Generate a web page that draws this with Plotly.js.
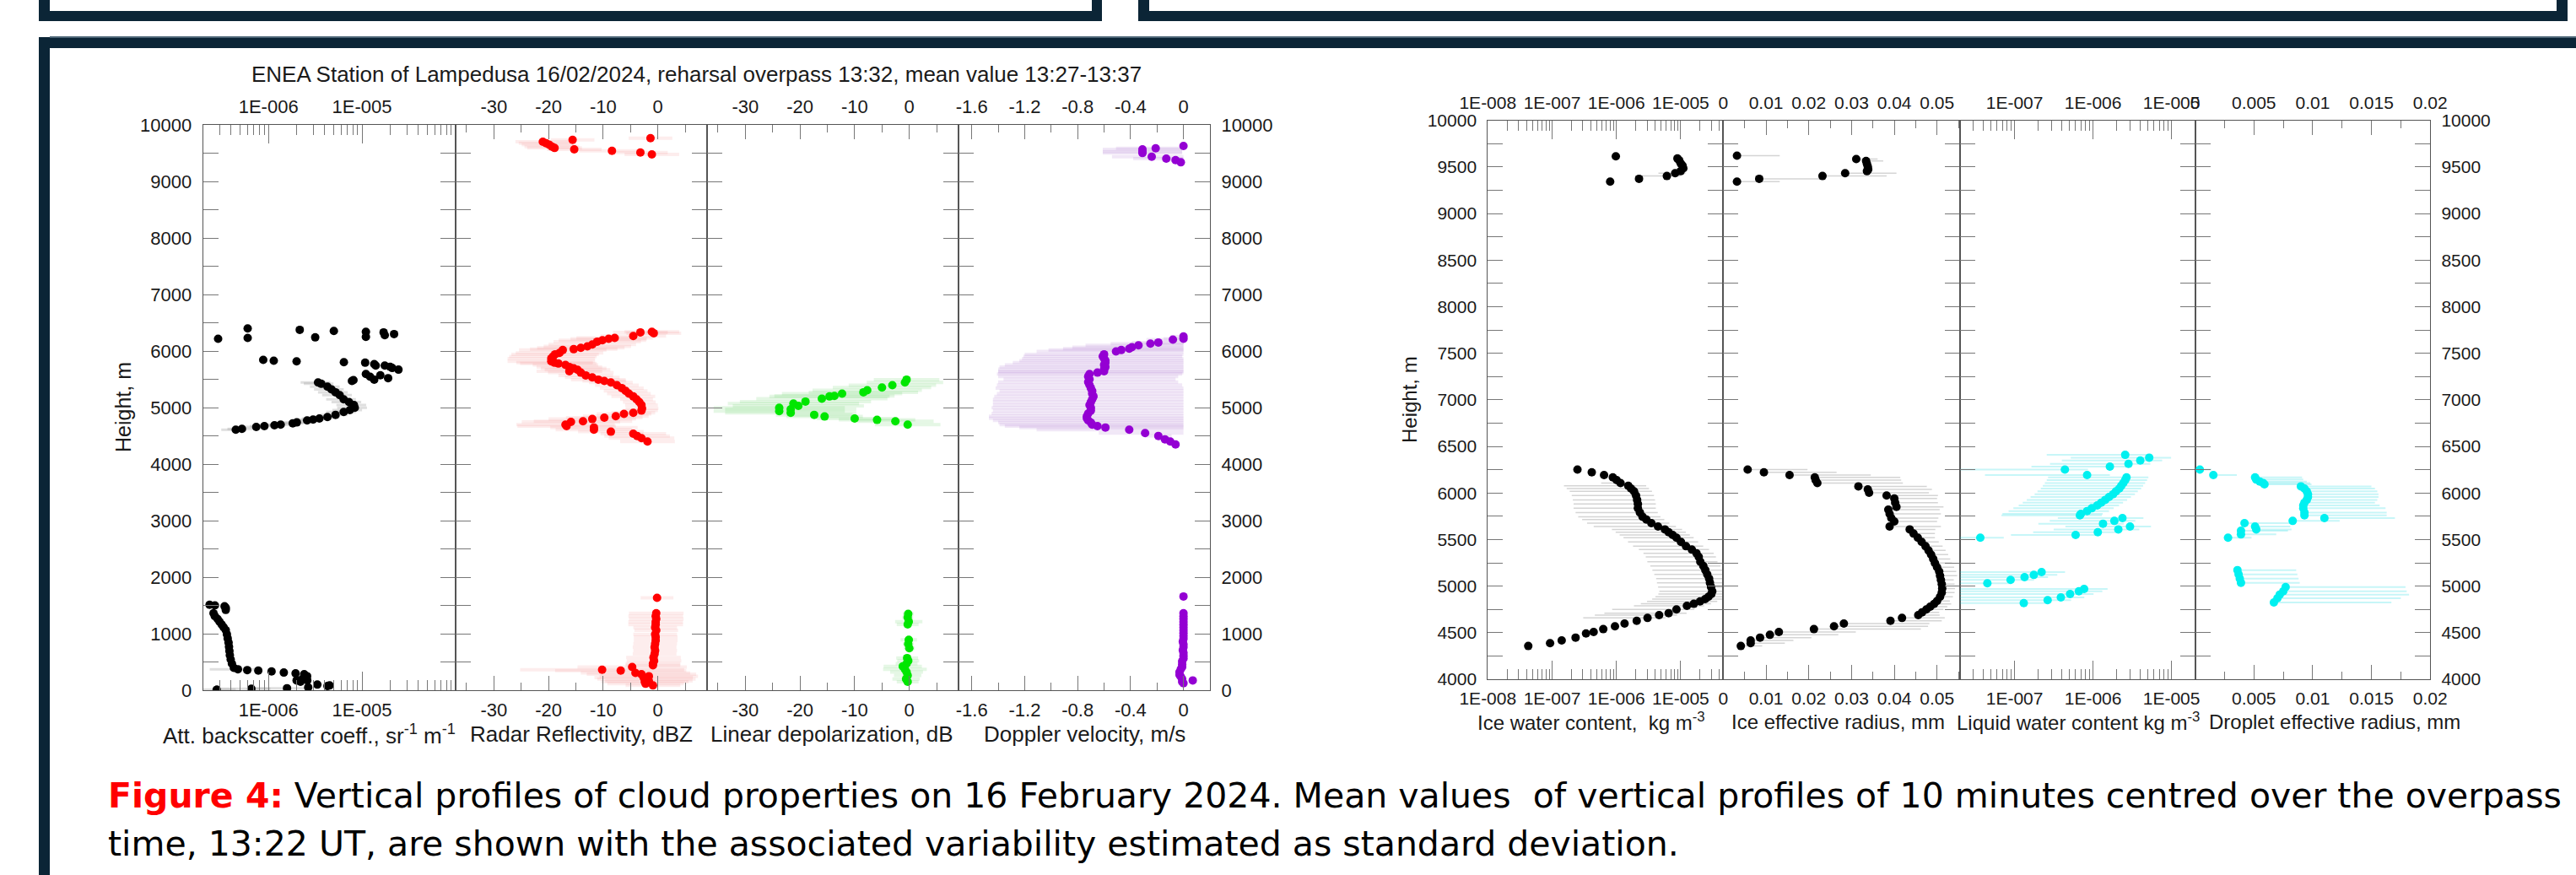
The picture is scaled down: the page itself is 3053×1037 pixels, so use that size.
<!DOCTYPE html>
<html><head><meta charset="utf-8">
<script src="https://cdn.plot.ly/plotly-3.0.1.min.js"></script>
<style>html,body{margin:0;padding:0;background:#fff;overflow:hidden}#chart{width:3053px;height:1037px}</style>
</head><body><div id="chart"></div>
<script>
// ---------------- DATA ----------------
// Left figure, panel 1: attenuated backscatter coefficient (sr-1 m-1)
const bsHeight = [6216,6400,6231,5843,5828,5818,6375,6241,6355,5803,6340,6250,6330,6280,6300,5793,5768,5743,5743,5720,5700,5670,5594,5544,5494,5570,5520,5484,5470,
  5444,5420,5370,5320,5270,5220,5145,5096,5046,4996,4956,4921,4871,4832,4807,4787,4772,4737,4722,4697,4687,4672,4657,4622,4607,
  1510,1500,1460,1485,1420,1361,1312,1262,1213,1163,1114,1064,990,916,842,767,693,619,545,470,396,371,356,346,332,312,297,282,248,173,149,198,223,173,50,99,74,84,10,25,35];
const bsValue = [2.9e-7,6.0e-7,6.0e-7,8.8e-7,1.14e-6,2.0e-6,2.16e-6,3.16e-6,5.0e-6,6.4e-6,1.1e-5,1.1e-5,1.7e-5,1.75e-5,2.2e-5,1.08e-5,1.35e-5,1.4e-5,1.75e-5,2.0e-5,2.1e-5,2.45e-5,1.1e-5,1.22e-5,1.35e-5,1.57e-5,1.9e-5,8.1e-6,7.8e-6,
  3.39e-6,3.67e-6,4.27e-6,4.72e-6,5.21e-6,5.77e-6,6.37e-6,7.26e-6,8.19e-6,8.36e-6,7.41e-6,6.37e-6,5.21e-6,4.27e-6,3.5e-6,3.0e-6,2.59e-6,2.01e-6,1.82e-6,1.35e-6,1.16e-6,9.05e-7,7.41e-7,5.21e-7,4.48e-7,
  2.35e-7,2.68e-7,3.5e-7,3.4e-7,3.5e-7,2.59e-7,2.67e-7,2.86e-7,3.0e-7,3.16e-7,3.32e-7,3.5e-7,3.6e-7,3.67e-7,3.75e-7,3.79e-7,3.83e-7,3.87e-7,3.95e-7,4.07e-7,4.27e-7,4.72e-7,5.94e-7,7.79e-7,1.08e-6,1.46e-6,1.95e-6,2.41e-6,2.59e-6,2.0e-6,2.2e-6,2.3e-6,2.5e-6,2.6e-6,2.66e-6,3.33e-6,4.27e-6,4.5e-6,2.8e-7,6.57e-7,1.58e-6];
// relative standard deviation (sd / value)
const bsRelSd = [0,0,0,0,0,0,0,0,0,0,0,0,0,0,0,0,0,0,0,0,0,0,0,0,0,0,0,0,0,
  0.35,0.35,0.35,0.35,0.35,0.35,0.35,0.35,0.35,0.35,0.35,0.35,0.35,0.35,0.35,0.3,0.3,0.3,0.3,0.3,0.3,0.3,0.3,0.3,0.3,
  0,0,0,0,0,0,0,0,0,0,0,0,0,0,0,0,0,0,0,0,0,0.5,0,0,0,0,0,0,0,0,0,0,0,0,0,0,0,0,0.6,0.6,0.6];

// Left figure, panel 2: radar reflectivity (dBZ)
const rzHeight = [9766,9736,9701,9676,9651,9617,9592,9567,9542,9512,9477,
  6340,6330,6315,6266,6231,6216,6191,6166,6116,6082,6057,6032,6017,5967,5942,5902,5867,5818,5793,5778,5753,5718,5693,5668,5643,5618,5569,5534,5494,5469,5444,5395,5345,5295,5245,5196,5146,5096,5046,4986,4946,4906,4887,4847,4822,4797,4757,4747,4697,4672,4647,4607,4573,4538,4498,4458,4398,
  1634,1361,1310,1260,1210,1160,1110,1060,990,940,880,820,760,700,640,580,520,470,440,411,361,347,307,282,248,223,198,163,149,114,84];
const rzValue = [-1.35,-15.6,-21.05,-20.45,-19.9,-19.4,-18.9,-15.3,-8.4,-3.2,-1.1,
  -1.1,-3.2,-0.75,-4.5,-7.9,-9.0,-10.15,-11.1,-12.0,-12.9,-14.1,-15.4,-17.4,-18.0,-18.8,-19.2,-19.5,-19.5,-18.9,-18.2,-16.9,-16.2,-15.4,-14.7,-16.2,-14.1,-13.2,-12.0,-10.9,-9.8,-8.6,-7.5,-6.6,-5.9,-5.3,-4.5,-3.9,-3.4,-3.0,-2.9,-3.0,-4.5,-6.2,-7.7,-9.8,-12.0,-13.7,-15.9,-16.9,-16.7,-11.7,-11.7,-8.6,-4.5,-3.8,-3.0,-1.9,
  -0.15,-0.3,-0.4,-0.3,-0.4,-0.4,-0.5,-0.3,-0.5,-0.4,-0.4,-0.5,-0.6,-0.5,-0.6,-0.8,-0.7,-0.9,-0.9,-4.7,-10.2,-6.8,-4.1,-3.0,-1.65,-2.6,-2.1,-1.65,-2.4,-2.25,-0.9];
const rzSd = [4,4,5,5,5,5,5,5,6,5,5,
  5,5,5,6,7,7,8,8,8,8,8,8,8,8,8,8,8,8,7,7,6,6,6,6,6,6,5,5,5,4,4,4,4,4,4,4,3,3,3,3,3,4,5,6,7,8,9,9,9,9,8,7,6,6,6,6,5,
  3,5,5,5,5,5,4,4,4,4,4,4,4,4,4,5,5,5,5,10,15,12,10,10,9,9,9,8,8,7,5];

// Left figure, panel 3: linear depolarization (dB)
const ldHeight = [4996,4936,4971,4906,5071,5031,5106,4871,5156,4842,5196,5206,5245,4807,5270,5305,4782,5355,5395,4757,5444,5494,4697,
  1351,1287,1213,1163,891,817,742,569,520,470,421,371,322,262,198,149];
const ldValue = [-23.8,-23.8,-21.7,-21.7,-21.2,-20.3,-19.0,-17.4,-16.0,-15.5,-14.6,-13.7,-12.3,-10.0,-8.4,-7.7,-5.9,-5.0,-3.1,-2.55,-0.8,-0.5,-0.3,
  -0.2,-0.3,-0.1,-0.3,-0.1,-0.2,0,-0.4,-0.2,-0.5,-1.2,-0.8,-0.5,-0.3,-0.6,-0.3];
const ldSd = [12,12,12,12,12,12,12,7,12,7,11,11,11,7,10,10,7,9,8,7,7,6,6,
  1,1,2.5,2,1.5,1,1,2,2,2,3.5,4,3,2.5,2.5,2];

// Left figure, panel 4: Doppler velocity (m/s)
const dvHeight = [9627,9587,9567,9527,9502,9437,9402,9378,9338,
  6256,6216,6201,6151,6131,6101,6067,6042,6017,5992,5942,5905,5867,5830,5793,5755,5718,5680,5643,5618,5594,5550,5500,5450,5400,5345,5295,5245,5196,5146,5096,5046,4996,4946,4896,4847,4810,4772,4735,4697,4672,4647,4607,4548,4498,4438,4398,4348,
  1658,1361,1310,1260,1210,1160,1110,1060,1010,960,910,860,810,760,710,660,610,560,510,460,410,372,322,272,240,198,173,149,124];
const dvValue = [0,-0.21,-0.31,-0.31,-0.31,-0.24,-0.13,-0.06,-0.02,
  0,0,-0.08,-0.19,-0.25,-0.34,-0.39,-0.41,-0.47,-0.51,-0.6,-0.61,-0.6,-0.59,-0.59,-0.6,-0.59,-0.6,-0.6,-0.65,-0.71,-0.72,-0.71,-0.72,-0.71,-0.7,-0.69,-0.69,-0.68,-0.69,-0.7,-0.71,-0.7,-0.7,-0.72,-0.73,-0.73,-0.72,-0.7,-0.69,-0.65,-0.59,-0.41,-0.29,-0.19,-0.14,-0.1,-0.06,
  0,0,0,0,0,0,0,0,0,0,0,-0.005,0,0,-0.005,0,0,0,-0.01,-0.01,-0.01,-0.02,-0.03,-0.03,-0.02,-0.01,0.07,-0.01,0];
const dvSd = [0,0.3,0.3,0.3,0.3,0.3,0.25,0.1,0.05,
  0.1,0.15,0.2,0.2,0.3,0.4,0.45,0.5,0.55,0.6,0.6,0.6,0.62,0.65,0.7,0.75,0.8,0.8,0.8,0.75,0.7,0.68,0.65,0.68,0.7,0.72,0.7,0.72,0.75,0.75,0.74,0.73,0.75,0.74,0.73,0.74,0.74,0.72,0.7,0.7,0.7,0.65,0.7,0.35,0.1,0.05,0.05,0.03,
  0.03,0.03,0.03,0.03,0.03,0.03,0.03,0.03,0.03,0.03,0.03,0.03,0.03,0.03,0.03,0.03,0.03,0.03,0.03,0.03,0.03,0.03,0.03,0.03,0.03,0.03,0.03,0.03,0.03];

// Right figure, panel 1: ice water content (kg m-3)
const iwcHeight = [9615,9342,9373,9403,9433,9591,9570,9539,9515,9485,9455,
  6252,6222,6192,6168,6138,6107,6077,6047,6017,5972,5926,5881,5836,5790,5745,5715,5676,5640,5609,5579,5549,5519,5474,5428,5392,5353,5314,5262,5217,5172,5126,5081,5036,4990,4945,4915,4885,4860,4835,4810,4788,4749,4710,4689,4658,4628,4598,4568,4538,4507,4492,4447,4417,4387,4357];
const iwcValue = [9.8e-7,8.0e-7,2.25e-6,6.1e-6,8.2e-6,8.9e-6,9.5e-6,1.0e-5,1.07e-5,1.1e-5,1.0e-5,
  2.48e-7,4.14e-7,6.43e-7,8.8e-7,1.01e-6,1.16e-6,1.53e-6,1.69e-6,1.88e-6,2.02e-6,2.1e-6,2.16e-6,2.16e-6,2.32e-6,2.55e-6,2.93e-6,3.5e-6,4.44e-6,5.68e-6,6.5e-6,7.5e-6,8.6e-6,1.01e-5,1.21e-5,1.49e-5,1.76e-5,1.91e-5,2.02e-5,2.25e-5,2.42e-5,2.59e-5,2.77e-5,2.85e-5,2.97e-5,3.1e-5,3.0e-5,2.7e-5,2.4e-5,2.0e-5,1.6e-5,1.25e-5,8.6e-6,6.5e-6,4.62e-6,3.05e-6,2.07e-6,1.34e-6,9.5e-7,6.25e-7,4.43e-7,3.37e-7,2.32e-7,1.41e-7,9.3e-8,4.26e-8];
const iwcRelSd = [0,0,0,0.63,0.45,0,0,0,0,0,0,
  0,0,0,0,0,0.5,0.9,0.9,0.9,0.9,0.9,0.9,0.9,0.9,0.9,0.9,0.9,0.9,0.85,0.85,0.85,0.85,0.85,0.85,0.85,0.85,0.85,0.85,0.85,0.85,0.85,0.85,0.85,0.85,0.85,0.85,0.85,0.85,0.85,0.85,0.85,0.9,0.9,0.9,0.9,0,0,0,0,0,0,0,0,0,0];

// Right figure, panel 2: ice effective radius (mm)
const ierHeight = [9621,9342,9373,9403,9433,9585,9564,9533,9503,9473,9455,
  6252,6222,6192,6168,6138,6107,6071,6038,6002,5972,5941,5896,5851,5821,5775,5730,5694,5640,5609,5564,5519,5474,5428,5383,5338,5292,5247,5202,5157,5111,5066,5021,4975,4930,4885,4840,4809,4779,4749,4719,4689,4658,4628,4598,4568,4538,4507,4477,4447,4417,4387,4357];
const ierValue = [0.0032,0.0032,0.0084,0.0232,0.0285,0.0311,0.0334,0.0336,0.0338,0.0339,0.0336,
  0.0057,0.0095,0.0155,0.0214,0.0216,0.022,0.0316,0.0338,0.0341,0.0382,0.04,0.0402,0.0405,0.0386,0.0389,0.0393,0.04,0.0389,0.0436,0.0445,0.0455,0.0464,0.0473,0.048,0.0486,0.0491,0.0495,0.05,0.0505,0.0507,0.0509,0.0511,0.0512,0.0511,0.0507,0.05,0.0493,0.0484,0.0475,0.0465,0.0456,0.0418,0.0391,0.0282,0.0259,0.0212,0.013,0.0109,0.0086,0.0064,0.0064,0.0041];
const ierSdPlus = [0.01,0.01,0.015,0.015,0.012,0.005,0.004,0,0,0,0,
  0.014,0.017,0.019,0.02,0.02,0.02,0.016,0.015,0.014,0.012,0.01,0.01,0.011,0.012,0.012,0.011,0.01,0.012,0.006,0.005,0.004,0.004,0.004,0.004,0.004,0.004,0.004,0.004,0.004,0.004,0.003,0.003,0.003,0.003,0.003,0.003,0.004,0.004,0.004,0.004,0.005,0.01,0.012,0.02,0.022,0.025,0.018,0.016,0.012,0.01,0.008,0.005];

// Right figure, panel 3: liquid water content (kg m-3)
const lwcHeight = [6409,6379,6349,6313,6283,6252,6192,6168,6138,6107,6077,6047,6017,5987,5957,5926,5896,5866,5836,5806,5775,5760,5730,5700,5670,5640,5609,5579,5549,5519,5151,5120,5096,5066,5030,4969,4945,4915,4879,4849,4818];
const lwcValue = [2.57e-6,5.2e-6,4.0e-6,2.83e-6,1.64e-6,4.38e-7,8.4e-7,2.67e-6,2.57e-6,2.43e-6,2.29e-6,2.16e-6,1.96e-6,1.8e-6,1.6e-6,1.43e-6,1.27e-6,1.13e-6,9.65e-7,8.4e-7,7.0e-7,6.8e-7,2.37e-6,1.87e-6,1.34e-6,2.96e-6,2.1e-6,1.15e-6,6.0e-7,3.66e-8,2.21e-7,1.76e-7,1.34e-7,8.9e-8,4.5e-8,7.7e-7,6.6e-7,5.1e-7,3.89e-7,2.64e-7,1.31e-7];
const lwcRelSd = [0.9,0.9,0.9,0.9,0.9,0.97,0.95,0.9,0.9,0.9,0.9,0.9,0.9,0.9,0.9,0.9,0.9,0.9,0.9,0.9,0.9,0.9,0.85,0.85,0.85,0.85,0.85,0.85,0.85,0.99,0.99,0.99,0.99,0.99,0.99,0.99,0.99,0.99,0.99,0.99,0.99];

// Right figure, panel 4: droplet effective radius (mm)
const derHeight = [6252,6192,6168,6144,6123,6107,6092,6071,6047,6017,5987,5957,5926,5896,5866,5836,5790,5760,5730,5700,5676,5640,5609,5594,5555,5519,5172,5126,5081,5036,4990,4945,4909,4870,4824];
const derValue = [0.0004,0.00155,0.0051,0.0052,0.0055,0.0058,0.0059,0.009,0.0093,0.0095,0.0096,0.0096,0.0095,0.0093,0.0092,0.0092,0.0093,0.0093,0.011,0.0083,0.0042,0.0051,0.0052,0.0039,0.0039,0.0028,0.0036,0.0037,0.0038,0.0039,0.0077,0.0075,0.0072,0.007,0.0067];
const derSdPlus = [0.001,0.002,0.004,0.004,0.004,0.004,0.004,0.006,0.006,0.006,0.006,0.006,0.006,0.006,0.0065,0.007,0.007,0.007,0.006,0.004,0.004,0.003,0.003,0.004,0.003,0.002,0.005,0.005,0.005,0.005,0.0102,0.0105,0.011,0.0105,0.01];

// Tick labels
const bsTickVals = [1e-6, 1e-5], bsTickText = ['1E-006', '1E-005'];
const dbTickVals = [-30, -20, -10, 0], dbTickText = ['-30', '-20', '-10', '0'];
const dvTickVals = [-1.6, -1.2, -0.8, -0.4, 0], dvTickText = ['-1.6', '-1.2', '-0.8', '-0.4', '0'];
const iwcTickVals = [1e-8, 1e-7, 1e-6, 1e-5], iwcTickText = ['1E-008', '1E-007', '1E-006', '1E-005'];
const ierTickVals = [0, 0.01, 0.02, 0.03, 0.04, 0.05], ierTickText = ['0', '0.01', '0.02', '0.03', '0.04', '0.05'];
const lwcTickVals = [1e-7, 1e-6, 1e-5], lwcTickText = ['1E-007', '1E-006', '1E-005'];
const derTickVals = [0, 0.005, 0.01, 0.015, 0.02], derTickText = ['0', '0.005', '0.01', '0.015', '0.02'];

// Texts
const mainTitle = 'ENEA Station of Lampedusa 16/02/2024, reharsal overpass 13:32, mean value 13:27-13:37';
const leftTitles = ['Att. backscatter coeff., sr<sup>-1</sup> m<sup>-1</sup>', 'Radar Reflectivity, dBZ', 'Linear depolarization, dB', 'Doppler velocity, m/s'];
const rightTitles = ['Ice water content,  kg m<sup>-3</sup>', 'Ice effective radius, mm', 'Liquid water content kg m<sup>-3</sup>', 'Droplet effective radius, mm'];
const heightTitle = 'Height, m';
const caption1 = '<b><span style="color:#ff0000">Figure 4:</span></b> Vertical profiles of cloud properties on 16 February 2024. Mean values  of vertical profiles of 10 minutes centred over the overpass';
const caption2 = 'time, 13:22 UT, are shown with the associated variability estimated as standard deviation.';

// ---------------- LAYOUT HELPERS ----------------
const W = 3053, H = 1037;
const fx = p => p / W, fy = p => 1 - p / H;
const FONT = 'Liberation Sans, Arial, Helvetica, sans-serif';
const CAPFONT = 'DejaVu Sans, Verdana, sans-serif';
const tickFontL = {family: FONT, size: 22, color: '#1a1a1a'};
const tickFontR = {family: FONT, size: 21, color: '#1a1a1a'};
const LX = [240.6, 540, 838, 1136, 1434];
const RX = [1763.3, 2042.4, 2322.6, 2601.6, 2880.2];
const LYd = [fy(818), fy(148)];
const RYd = [fy(805), fy(142.7)];

function logMinor(d0, d1) { const v = []; for (let d = d0; d < d1; d++) for (let k = 2; k <= 9; k++) v.push(k * Math.pow(10, d)); return v; }
function linMinor(a, b, step) { const v = []; for (let t = a; t <= b + 1e-12; t += step) v.push(+t.toFixed(6)); return v; }

const panels = [
  {x0: LX[0], x1: LX[1], yd: LYd, type: 'log', range: [Math.log10(2e-7), -4], tv: bsTickVals, tt: bsTickText, minor: logMinor(-7, -4)},
  {x0: LX[1], x1: LX[2], yd: LYd, type: 'linear', range: [-37, 9], tv: dbTickVals, tt: dbTickText, minor: linMinor(-35, 5, 10)},
  {x0: LX[2], x1: LX[3], yd: LYd, type: 'linear', range: [-37, 9], tv: dbTickVals, tt: dbTickText, minor: linMinor(-35, 5, 10)},
  {x0: LX[3], x1: LX[4], yd: LYd, type: 'linear', range: [-1.7, 0.2], tv: dvTickVals, tt: dvTickText, minor: linMinor(-1.4, 0.2, 0.4)},
  {x0: RX[0], x1: RX[1], yd: RYd, type: 'log', range: [-8, Math.log10(4.6e-5)], tv: iwcTickVals, tt: iwcTickText, minor: logMinor(-8, -4)},
  {x0: RX[1], x1: RX[2], yd: RYd, type: 'linear', range: [0, 0.0553], tv: ierTickVals, tt: ierTickText, minor: linMinor(0.005, 0.055, 0.01)},
  {x0: RX[2], x1: RX[3], yd: RYd, type: 'log', range: [Math.log10(2e-8), Math.log10(2e-5)], tv: lwcTickVals, tt: lwcTickText, minor: logMinor(-8, -4)},
  {x0: RX[3], x1: RX[4], yd: RYd, type: 'linear', range: [0, 0.02], tv: derTickVals, tt: derTickText, minor: linMinor(0.0025, 0.0175, 0.005), bottomNoZero: true}
];

const layout = {
  width: W, height: H, margin: {l: 0, r: 0, t: 0, b: 0},
  paper_bgcolor: '#ffffff', plot_bgcolor: 'rgba(0,0,0,0)', showlegend: false,
  font: {family: FONT, size: 22, color: '#1a1a1a'},
  annotations: [], shapes: []
};

function xAxisObj(p, side, anchor, overlay, tt, tf) {
  const isLog = p.type === 'log';
  const a = {
    type: p.type, range: p.range, autorange: false, anchor: anchor, side: side,
    showline: true, linecolor: '#555', linewidth: 1, mirror: false,
    ticks: 'inside', ticklen: isLog ? 22 : 17, tickwidth: 1, tickcolor: '#777',
    tickmode: 'array', tickvals: p.tv, ticktext: tt, tickfont: tf, ticklabelstandoff: 4,
    showgrid: false, zeroline: false, fixedrange: true,
    minor: {ticks: 'inside', ticklen: isLog ? 12 : 9, tickwidth: 1, tickcolor: '#777', tickmode: 'array', tickvals: p.minor, showgrid: false}
  };
  if (overlay) a.overlaying = overlay; else a.domain = [fx(p.x0), fx(p.x1)];
  return a;
}
function yAxisObj(p, anchor, side, labels, isLeft, tf) {
  return {
    domain: p.yd, anchor: anchor, side: side, autorange: false,
    range: isLeft ? [0, 10000] : [4000, 10000],
    showline: true, linecolor: '#555', linewidth: 1, mirror: 'allticks',
    ticks: 'inside', ticklen: 18, tickwidth: 1, tickcolor: '#777',
    tickmode: 'linear', tick0: 0, dtick: isLeft ? 1000 : 500, tickformat: 'd',
    showticklabels: labels, tickfont: tf, ticklabelstandoff: 8,
    showgrid: false, zeroline: false, fixedrange: true,
    minor: {ticks: 'inside', ticklen: 9, tickwidth: 1, tickcolor: '#777', tick0: 0, dtick: isLeft ? 500 : 250, showgrid: false}
  };
}

const traces = [];
panels.forEach((p, i) => {
  const n = i + 1, nt = i + 9;
  const xb = 'xaxis' + (n === 1 ? '' : n), yb = 'yaxis' + (n === 1 ? '' : n);
  const xid = 'x' + (n === 1 ? '' : n), yid = 'y' + (n === 1 ? '' : n);
  const isLeft = i < 4;
  const tf = isLeft ? tickFontL : tickFontR;
  const first = (i === 0 || i === 4), last = (i === 3 || i === 7);
  const bottomText = p.bottomNoZero ? p.tt.map((t, k) => (p.tv[k] === 0 ? ' ' : t)) : p.tt;
  layout[xb] = xAxisObj(p, 'bottom', yid, null, bottomText, tf);
  layout['xaxis' + nt] = xAxisObj(p, 'top', yid, xid, p.tt, tf);
  layout[yb] = yAxisObj(p, xid, last ? 'right' : 'left', first || last, isLeft, tf);
  traces.push({type: 'scatter', mode: 'markers', x: [], y: [], xaxis: 'x' + nt, yaxis: yid, hoverinfo: 'skip', showlegend: false});
  p.xid = xid; p.yid = yid;
});

// error bar builders
const symErr = (sd, col, th) => ({type: 'data', symmetric: true, array: sd, color: col, thickness: th, width: 0});
const relErr = (vals, rel, col, th) => ({type: 'data', symmetric: false,
  array: vals.map((v, k) => v * rel[k]), arrayminus: vals.map((v, k) => v * Math.min(rel[k], 0.995)),
  color: col, thickness: th, width: 0});
const plusErr = (plus, col, th) => ({type: 'data', symmetric: false, array: plus, arrayminus: plus.map(() => 0), color: col, thickness: th, width: 0});
const clipZeroErr = (vals, sd, col, th) => ({type: 'data', symmetric: false,
  array: vals.map((v, k) => Math.max(0, Math.min(sd[k], -v))), arrayminus: sd, color: col, thickness: th, width: 0});

function addSeries(pi, xs, ys, color, err) {
  traces.push({type: 'scatter', mode: 'markers', x: xs, y: ys, xaxis: panels[pi].xid, yaxis: panels[pi].yid,
    marker: {size: 10, color: color, line: {width: 0}}, error_x: err, hoverinfo: 'skip', showlegend: false, cliponaxis: true});
}
addSeries(0, bsValue, bsHeight, '#000000', relErr(bsValue, bsRelSd, 'rgba(150,150,150,0.3)', 3));
addSeries(1, rzValue, rzHeight, '#ff0000', symErr(rzSd, 'rgba(240,110,110,0.12)', 4));
addSeries(2, ldValue, ldHeight, '#00e600', symErr(ldSd, 'rgba(70,200,70,0.14)', 4));
addSeries(3, dvValue, dvHeight, '#9400d3', clipZeroErr(dvValue, dvSd, 'rgba(160,100,200,0.15)', 4));
addSeries(4, iwcValue, iwcHeight, '#000000', relErr(iwcValue, iwcRelSd, 'rgba(160,160,160,0.45)', 1.5));
addSeries(5, ierValue, ierHeight, '#000000', plusErr(ierSdPlus, 'rgba(160,160,160,0.45)', 1.5));
addSeries(6, lwcValue, lwcHeight, '#00f0f0', relErr(lwcValue, lwcRelSd, 'rgba(0,215,225,0.22)', 2));
addSeries(7, derValue, derHeight, '#00f0f0', plusErr(derSdPlus, 'rgba(0,215,225,0.22)', 2));

// ---------------- ANNOTATIONS ----------------
const ann = (text, x, y, size, extra) => Object.assign({text: text, x: fx(x), y: fy(y), xref: 'paper', yref: 'paper',
  showarrow: false, xanchor: 'center', yanchor: 'middle', font: {family: FONT, size: size, color: '#1a1a1a'}}, extra || {});
layout.annotations.push(ann(mainTitle, 825, 88, 26));
layout.annotations.push(ann(heightTitle, 146, 483, 25, {textangle: -90}));
layout.annotations.push(ann(heightTitle, 1670, 474, 24, {textangle: -90}));
[366, 689, 986, 1285].forEach((x, k) => layout.annotations.push(ann(leftTitles[k], x, 870, 26)));
[1886, 2178, 2463, 2767].forEach((x, k) => layout.annotations.push(ann(rightTitles[k], x, 855, 24)));
layout.annotations.push(ann(caption1, 126, 943, 41, {xanchor: 'left', font: {family: CAPFONT, size: 41, color: '#000000'}}));
layout.annotations.push(ann(caption2, 126, 1000, 41, {xanchor: 'left', font: {family: CAPFONT, size: 41, color: '#000000'}}));

// ---------------- FRAME SHAPES ----------------
const NAVY = '#0b2536';
const box = (x0, y0, x1, y1, col) => ({type: 'rect', xref: 'paper', yref: 'paper', x0: fx(x0), x1: fx(x1), y0: fy(y1), y1: fy(y0),
  fillcolor: col || NAVY, line: {width: 0}, layer: 'above'});
layout.shapes.push(
  box(46, 0, 59, 25), box(1294, 0, 1306, 25), box(46, 13, 1306, 25),
  box(1349, 0, 1362, 25), box(3030, 0, 3043, 25), box(1349, 13, 3043, 25),
  box(46, 44, 3053, 57), box(46, 44, 59, 1037), box(59, 43, 3053, 45, '#4d6677')
);

Plotly.newPlot('chart', traces, layout, {staticPlot: true, displayModeBar: false});
</script></body></html>
